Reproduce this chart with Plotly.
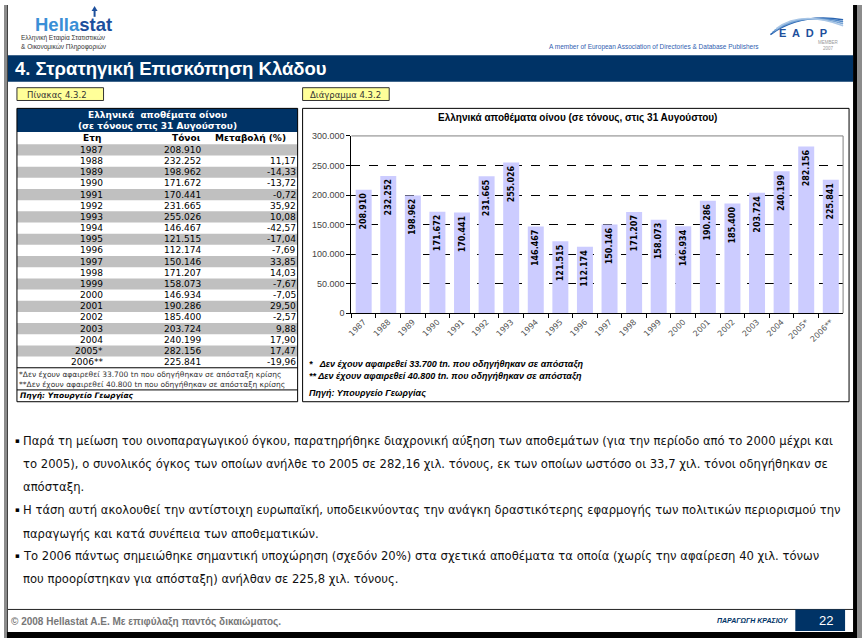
import plotly.graph_objects as go

W, H = 862, 643

# --- data ---
years = ["1987", "1988", "1989", "1990", "1991", "1992", "1993", "1994", "1995", "1996",
         "1997", "1998", "1999", "2000", "2001", "2002", "2003", "2004", "2005*", "2006**"]
tonnes = [208910, 232252, 198962, 171672, 170441, 231665, 255026, 146467, 121515, 112174,
          150146, 171207, 158073, 146934, 190286, 185400, 203724, 240199, 282156, 225841]
change = ["", "11,17", "-14,33", "-13,72", "-0,72", "35,92", "10,08", "-42,57", "-17,04", "-7,69",
          "33,85", "14,03", "-7,67", "-7,05", "29,50", "-2,57", "9,88", "17,90", "17,47", "-19,96"]

paragraph = [
    (True, "Παρά τη μείωση του οινοπαραγωγικού όγκου, παρατηρήθηκε διαχρονική αύξηση των αποθεμάτων (για την περίοδο από το 2000 μέχρι και"),
    (False, "το 2005), ο συνολικός όγκος των οποίων ανήλθε το 2005 σε 282,16 χιλ. τόνους, εκ των οποίων ωστόσο οι 33,7 χιλ. τόνοι οδηγήθηκαν σε"),
    (False, "απόσταξη."),
    (True, "Η τάση αυτή ακολουθεί την αντίστοιχη ευρωπαϊκή, υποδεικνύοντας την ανάγκη δραστικότερης εφαρμογής των πολιτικών περιορισμού την"),
    (False, "παραγωγής και κατά συνέπεια των αποθεματικών."),
    (True, "Το 2006 πάντως σημειώθηκε σημαντική υποχώρηση (σχεδόν 20%) στα σχετικά αποθέματα τα οποία (χωρίς την αφαίρεση 40 χιλ. τόνων"),
    (False, "που προορίστηκαν για απόσταξη) ανήλθαν σε 225,8 χιλ. τόνους."),
]

NAVY = "#003366"
TAHOMA = "DejaVu Sans, Verdana, sans-serif"
ARIAL = "Liberation Sans, Arial, sans-serif"


def px(x):
    return x / W


def py(y):
    return 1 - y / H


shapes = []
annos = []


def rect(x0, y0, x1, y1, fill=None, line=None, lw=1, layer="below"):
    shapes.append(dict(type="rect", xref="paper", yref="paper",
                       x0=px(x0), x1=px(x1), y0=py(y0), y1=py(y1),
                       fillcolor=fill or "rgba(0,0,0,0)",
                       line=dict(color=line or "rgba(0,0,0,0)", width=lw if line else 0),
                       layer=layer))


def hline(x0, x1, y, color="black", lw=1, layer="below"):
    shapes.append(dict(type="line", xref="paper", yref="paper",
                       x0=px(x0), x1=px(x1), y0=py(y), y1=py(y),
                       line=dict(color=color, width=lw), layer=layer))


def text(x, y, s, size=10, color="black", family=ARIAL, anchor="left", **kw):
    annos.append(dict(xref="paper", yref="paper", x=px(x), y=py(y), text=s,
                      showarrow=False, xanchor=anchor, yanchor="middle", borderpad=0,
                      font=dict(size=size, color=color, family=family), **kw))


# --- page frame ---
rect(0, 0, 3, H, fill="#8c8c8c")
rect(3, 0, 4, H, fill="#404040")
rect(853, 0, 857, H, fill="black")
rect(857, 0, W, H, fill="#8c8c8c")
rect(3, 637, 857, H, fill="black")

# --- header ---
text(30, 20, "<b><span style='color:#3a8fd6'>Hella</span><span style='color:#1d4f9c'>stat</span></b>",
     size=18.5, family=ARIAL)
shapes.append(dict(type="line", xref="paper", yref="paper", x0=px(91), x1=px(91), y0=py(12), y1=py(4),
                   line=dict(color="#1d4f9c", width=2)))
shapes.append(dict(type="path", xref="paper", yref="paper",
                   path=f"M {px(88)} {py(6)} L {px(91)} {py(1)} L {px(94)} {py(6)} Z",
                   fillcolor="#1d4f9c", line=dict(width=0)))
text(16, 34, "Ελληνική Εταιρία Στατιστικών", size=6.5, color="#333", family=ARIAL)
text(16, 43, "&amp; Οικονομικών Πληροφοριών", size=6.5, color="#333", family=ARIAL)
text(760, 43, "A member of European Association of Directories &amp; Database Publishers",
     size=6.5, color="#3060b0", family=ARIAL, anchor="right")
# EADP logo
for i, c in enumerate(["#2a64b0", "#4f86c6", "#7aa6d6", "#a9c6e6"]):
    shapes.append(dict(type="path", xref="paper", yref="paper",
                       path=f"M {px(770 + i * 2)} {py(30 - i * 2)} Q {px(800)} {py(8 - i)} {px(843)} {py(15 + i * 2)}",
                       line=dict(color=c, width=1.5)))
text(803, 28, "<b>E  A  D  P</b>", size=11, color="#1d4f9c", family=ARIAL, anchor="center")
text(828, 38, "MEMBER", size=4.5, color="#999", family=ARIAL, anchor="center")
text(828, 44, "2007", size=4.5, color="#999", family=ARIAL, anchor="center")

rect(4, 51, 853, 78, fill=NAVY)
text(10, 64, "<b>4. Στρατηγική Επισκόπηση Κλάδου</b>", size=18.5, color="white", family=ARIAL)

# --- labels ---
rect(13, 84, 100, 97, fill="#ffff99", line="#333")
text(22, 91, "Πίνακας 4.3.2", size=8.5, color="#333", family=TAHOMA)
rect(300, 84, 387, 97, fill="#ffff99", line="#333")
text(306, 91, "Διάγραμμα 4.3.2", size=8.5, color="#333", family=TAHOMA)

# --- table ---
tx0, tx1 = 13, 295
rect(tx0, 105, tx1, 129, fill=NAVY)
text(154, 112, "<b>Ελληνικά  αποθέματα οίνου</b>", size=9, color="white", family=TAHOMA, anchor="center")
text(154, 123, "<b>(σε τόνους στις 31 Αυγούστου)</b>", size=9, color="white", family=TAHOMA, anchor="center")
text(88, 135, "<b>Ετη</b>", size=9, family=TAHOMA, anchor="center")
text(199, 135, "<b>Τόνοι</b>", size=9, family=TAHOMA, anchor="right")
text(284, 135, "<b>Μεταβολή (%)</b>", size=9, family=TAHOMA, anchor="right")
row_h = 11.35
top = 141.5
for i, (yr, t, ch) in enumerate(zip(years, tonnes, change)):
    y0 = top + i * row_h
    if i % 2 == 0:
        rect(tx0, y0, tx1, y0 + row_h, fill="#c0c0c0")
    yc = y0 + row_h / 2
    text(100, yc, yr, size=9, family=TAHOMA, anchor="right")
    text(199, yc, f"{t:,}".replace(",", "."), size=9, family=TAHOMA, anchor="right")
    text(294, yc, ch, size=9, family=TAHOMA, anchor="right")
tb = top + len(years) * row_h
hline(tx0, tx1, tb)
text(14, 375, "*Δεν έχουν αφαιρεθεί 33.700 tn που οδηγήθηκαν σε απόσταξη κρίσης", size=7.5, color="#333", family=TAHOMA)
text(14, 386, "**Δεν έχουν αφαιρεθεί 40.800 tn που οδηγήθηκαν σε απόσταξη κρίσης", size=7.5, color="#333", family=TAHOMA)
hline(tx0, tx1, 391)
text(15, 397, "<b><i>Πηγή: Υπουργείο Γεωργίας</i></b>", size=7.5, family=TAHOMA)
rect(tx0, 105, tx1, 403, line="black", layer="above")

# --- chart box ---
rect(300, 105, 849, 403, line="black")
text(576, 115, "<b>Ελληνικά αποθέματα οίνου (σε τόνους, στις 31 Αυγούστου)</b>", size=10,
     family=ARIAL, anchor="center")
text(305, 365, "<b><i>*   Δεν έχουν αφαιρεθεί 33.700 tn. που οδηγήθηκαν σε απόσταξη</i></b>", size=9, family=ARIAL)
text(305, 377, "<b><i>** Δεν έχουν αφαιρεθεί 40.800 tn. που οδηγήθηκαν σε απόσταξη</i></b>", size=9, family=ARIAL)
text(305, 394, "<b><i>Πηγή: Υπουργείο Γεωργίας</i></b>", size=9, family=ARIAL)

px0, px1, py0, py1 = 349, 843, 133, 313
# plot frame (top / right in grey)
shapes.append(dict(type="line", xref="paper", yref="paper", x0=px(px0), x1=px(px1), y0=py(py0), y1=py(py0),
                   line=dict(color="#808080", width=1), layer="above"))
shapes.append(dict(type="line", xref="paper", yref="paper", x0=px(px1), x1=px(px1), y0=py(py0), y1=py(py1),
                   line=dict(color="#808080", width=1), layer="above"))

# --- paragraphs ---
ys = [443, 466, 490, 513, 537, 560, 583]
for (bullet, s), y in zip(paragraph, ys):
    if bullet:
        text(10, y, "▪", size=7, family=TAHOMA)
    text(18, y, s, size=11.6, color="#111", family=TAHOMA)

# --- footer ---
hline(4, 853, 614, color="#222")
text(6, 627, "<b>© 2008 Hellastat A.E. Με επιφύλαξη παντός δικαιώματος.</b>", size=10, color="#777", family=ARIAL)
text(790, 625, "<b><i>ΠΑΡΑΓΩΓΗ ΚΡΑΣΙΟΥ</i></b>", size=7, color=NAVY, family=ARIAL, anchor="right")
rect(795, 614, 845, 636, fill=NAVY)
text(826, 625, "22", size=13, color="white", family=ARIAL, anchor="center")

fig = go.Figure()
fig.add_trace(go.Bar(
    x=years, y=tonnes,
    marker=dict(color="#ccccff", line=dict(width=0)),
    texttemplate="<b>%{y:,.0f}</b>", textposition="inside", insidetextanchor="end",
    textangle=-90, textfont=dict(size=8, color="black", family=TAHOMA),
    constraintext="none", hoverinfo="skip",
))

fig.update_layout(
    width=W, height=H, autosize=False,
    margin=dict(l=0, r=0, t=0, b=0),
    paper_bgcolor="white", plot_bgcolor="white",
    separators=",.",
    showlegend=False,
    bargap=0.35,
    shapes=shapes, annotations=annos,
    xaxis=dict(domain=[px(px0), px(px1)], showline=True, linecolor="black", linewidth=1,
               ticks="outside", ticklen=4, tickcolor="black", tickson="boundaries",
               tickangle=-45, tickfont=dict(size=8, color="#555", family=TAHOMA),
               showgrid=False, fixedrange=True),
    yaxis=dict(domain=[py(py1), py(py0)], range=[0, 300000], dtick=50000, tickformat=",.0f",
               showline=True, linecolor="black", linewidth=1,
               ticks="outside", ticklen=4, tickcolor="black",
               tickfont=dict(size=9, color="#444", family=ARIAL),
               showgrid=True, gridcolor="black", gridwidth=1, griddash="dash",
               zeroline=False, fixedrange=True),
)

fig.write_html("out.html", config={"displayModeBar": False},
               post_script="document.body.style.margin='0';")
